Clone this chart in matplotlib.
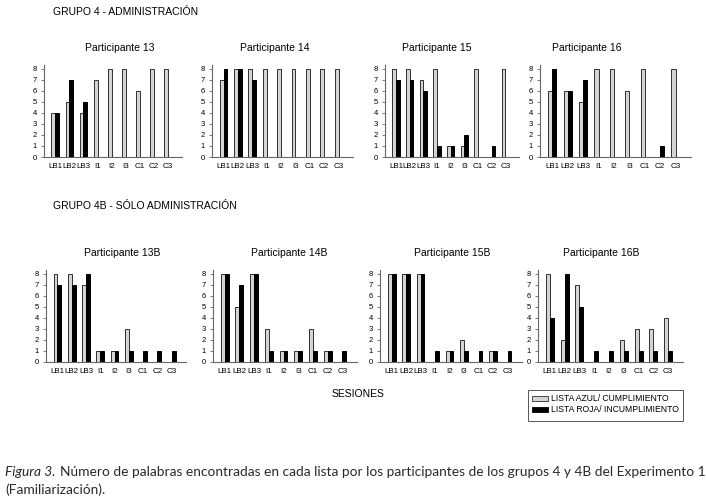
import matplotlib
matplotlib.use("Agg")
import matplotlib.pyplot as plt
import numpy as np
from matplotlib.patches import Rectangle

sessions = ["LB1", "LB2", "LB3", "I1", "I2", "I3", "C1", "C2", "C3"]

# Grupo 4 - Administración (azul/cumplimiento, roja/incumplimiento)
p13_azul = [4, 5, 4, 7, 8, 8, 6, 8, 8]
p13_roja = [4, 7, 5, 0, 0, 0, 0, 0, 0]
p14_azul = [7, 8, 8, 8, 8, 8, 8, 8, 8]
p14_roja = [8, 8, 7, 0, 0, 0, 0, 0, 0]
p15_azul = [8, 8, 7, 8, 1, 1, 8, 0, 8]
p15_roja = [7, 7, 6, 1, 1, 2, 0, 1, 0]
p16_azul = [6, 6, 5, 8, 8, 6, 8, 0, 8]
p16_roja = [8, 6, 7, 0, 0, 0, 0, 1, 0]

# Grupo 4B - Sólo administración
p13b_azul = [8, 8, 7, 1, 1, 3, 0, 0, 0]
p13b_roja = [7, 7, 8, 1, 1, 1, 1, 1, 1]
p14b_azul = [8, 5, 8, 3, 1, 1, 3, 1, 0]
p14b_roja = [8, 7, 8, 1, 1, 1, 1, 1, 1]
p15b_azul = [8, 8, 8, 0, 1, 2, 0, 1, 0]
p15b_roja = [8, 8, 8, 1, 1, 1, 1, 1, 1]
p16b_azul = [8, 2, 7, 0, 0, 2, 3, 3, 4]
p16b_roja = [4, 8, 5, 1, 1, 1, 1, 1, 1]

titles_top = ["Participante 13", "Participante 14", "Participante 15", "Participante 16"]
titles_bot = ["Participante 13B", "Participante 14B", "Participante 15B", "Participante 16B"]
yticks = [0, 1, 2, 3, 4, 5, 6, 7, 8]

W, H = 706, 504
plt.rcParams['font.family'] = ['Liberation Sans', 'DejaVu Sans']
fig = plt.figure(figsize=(W / 100, H / 100), dpi=100)
fig.patch.set_facecolor('white')

def fx(x):
    return x / W

def fy(y):
    return 1 - y / H

LIGHT = '#d4d4d4'
EDGE = '#303030'
BW = 0.27

def panel(x0, x1, ytop, ybot, azul, roja):
    ax = fig.add_axes([fx(x0), fy(ybot), (x1 - x0) / W, (ybot - ytop) / H])
    x = np.arange(len(sessions))
    a = np.array(azul, dtype=float)
    r = np.array(roja, dtype=float)
    ma = a > 0
    mr = r > 0
    ax.bar(x[ma] - BW / 2, a[ma], BW, color=LIGHT, edgecolor=EDGE, linewidth=0.7, zorder=3)
    ax.bar(x[mr] + BW / 2, r[mr], BW, color='black', edgecolor='black', linewidth=0.7, zorder=3)
    ax.set_xlim(-0.8, 9.0)
    ax.set_ylim(0, 8.35)
    ax.set_yticks(yticks)
    ax.set_xticks(x)
    ax.set_xticklabels(sessions)
    for s in ['top', 'right']:
        ax.spines[s].set_visible(False)
    for s in ['left', 'bottom']:
        ax.spines[s].set_color('#666666')
        ax.spines[s].set_linewidth(0.8)
    ax.tick_params(axis='y', length=2, width=0.6, color='#666666', labelsize=5.5, pad=3)
    ax.tick_params(axis='x', length=0, labelsize=5.8, pad=4)
    ax.set_facecolor('none')
    return ax

top_x = [(44, 182), (212, 353), (385, 519), (540, 691)]
bot_x = [(46, 186), (213, 357), (380, 522), (538, 683)]
top_data = [(p13_azul, p13_roja), (p14_azul, p14_roja), (p15_azul, p15_roja), (p16_azul, p16_roja)]
bot_data = [(p13b_azul, p13b_roja), (p14b_azul, p14b_roja), (p15b_azul, p15b_roja), (p16b_azul, p16b_roja)]
top_title_x = [120, 275, 437, 587]
bot_title_x = [122, 289, 452, 601]

for (x0, x1), (a, r), t, tx in zip(top_x, top_data, titles_top, top_title_x):
    panel(x0, x1, 65, 157, a, r)
    fig.text(fx(tx), fy(48), t, ha='center', va='center', fontsize=7.5)

for (x0, x1), (a, r), t, tx in zip(bot_x, bot_data, titles_bot, bot_title_x):
    panel(x0, x1, 270, 362, a, r)
    fig.text(fx(tx), fy(253), t, ha='center', va='center', fontsize=7.5)

fig.text(fx(53), fy(12), "GRUPO 4 - ADMINISTRACIÓN", ha='left', va='center', fontsize=7.5)
fig.text(fx(53), fy(206), "GRUPO 4B - SÓLO ADMINISTRACIÓN", ha='left', va='center', fontsize=7.5)
fig.text(fx(358), fy(394), "SESIONES", ha='center', va='center', fontsize=7.5)

# legend
fig.patches.append(Rectangle((fx(528), fy(421)), (683 - 528) / W, (421 - 390) / H,
                             transform=fig.transFigure, fill=False, edgecolor='#555555', linewidth=0.7))
fig.patches.append(Rectangle((fx(532), fy(401)), 16 / W, 5 / H, transform=fig.transFigure,
                             facecolor=LIGHT, edgecolor=EDGE, linewidth=0.6))
fig.patches.append(Rectangle((fx(532), fy(412)), 16 / W, 5 / H, transform=fig.transFigure,
                             facecolor='black', edgecolor='black', linewidth=0.6))
fig.text(fx(551), fy(398.5), "LISTA AZUL/ CUMPLIMIENTO", ha='left', va='center', fontsize=6.2)
fig.text(fx(551), fy(409.5), "LISTA ROJA/ INCUMPLIMIENTO", ha='left', va='center', fontsize=6.2)

# caption, fitted to the reference line width
cap_color = '#2a2a2a'
cap_fam = ['Lato', 'DejaVu Sans']
line1 = "Número de palabras encontradas en cada lista por los participantes de los grupos 4 y 4B del Experimento 1"
renderer = fig.canvas.get_renderer()

def caption(fs):
    t1 = fig.text(fx(5), fy(472), "Figura 3.", ha='left', va='center', fontsize=fs,
                  style='italic', family=cap_fam, color=cap_color)
    bb = t1.get_window_extent(renderer=renderer)
    t2 = fig.text((bb.x1 + 4) / W, fy(472), line1, ha='left', va='center', fontsize=fs,
                  family=cap_fam, color=cap_color)
    return t1, t2

t1, t2 = caption(9.0)
right = t2.get_window_extent(renderer=renderer).x1
fs = 9.0 * (703 - 5) / (right - 5)
t1.remove()
t2.remove()
caption(fs)
fig.text(fx(5), fy(490), "(Familiarización).", ha='left', va='center', fontsize=fs,
         family=cap_fam, color=cap_color)

fig.savefig("out.png", dpi=100, facecolor='white')
